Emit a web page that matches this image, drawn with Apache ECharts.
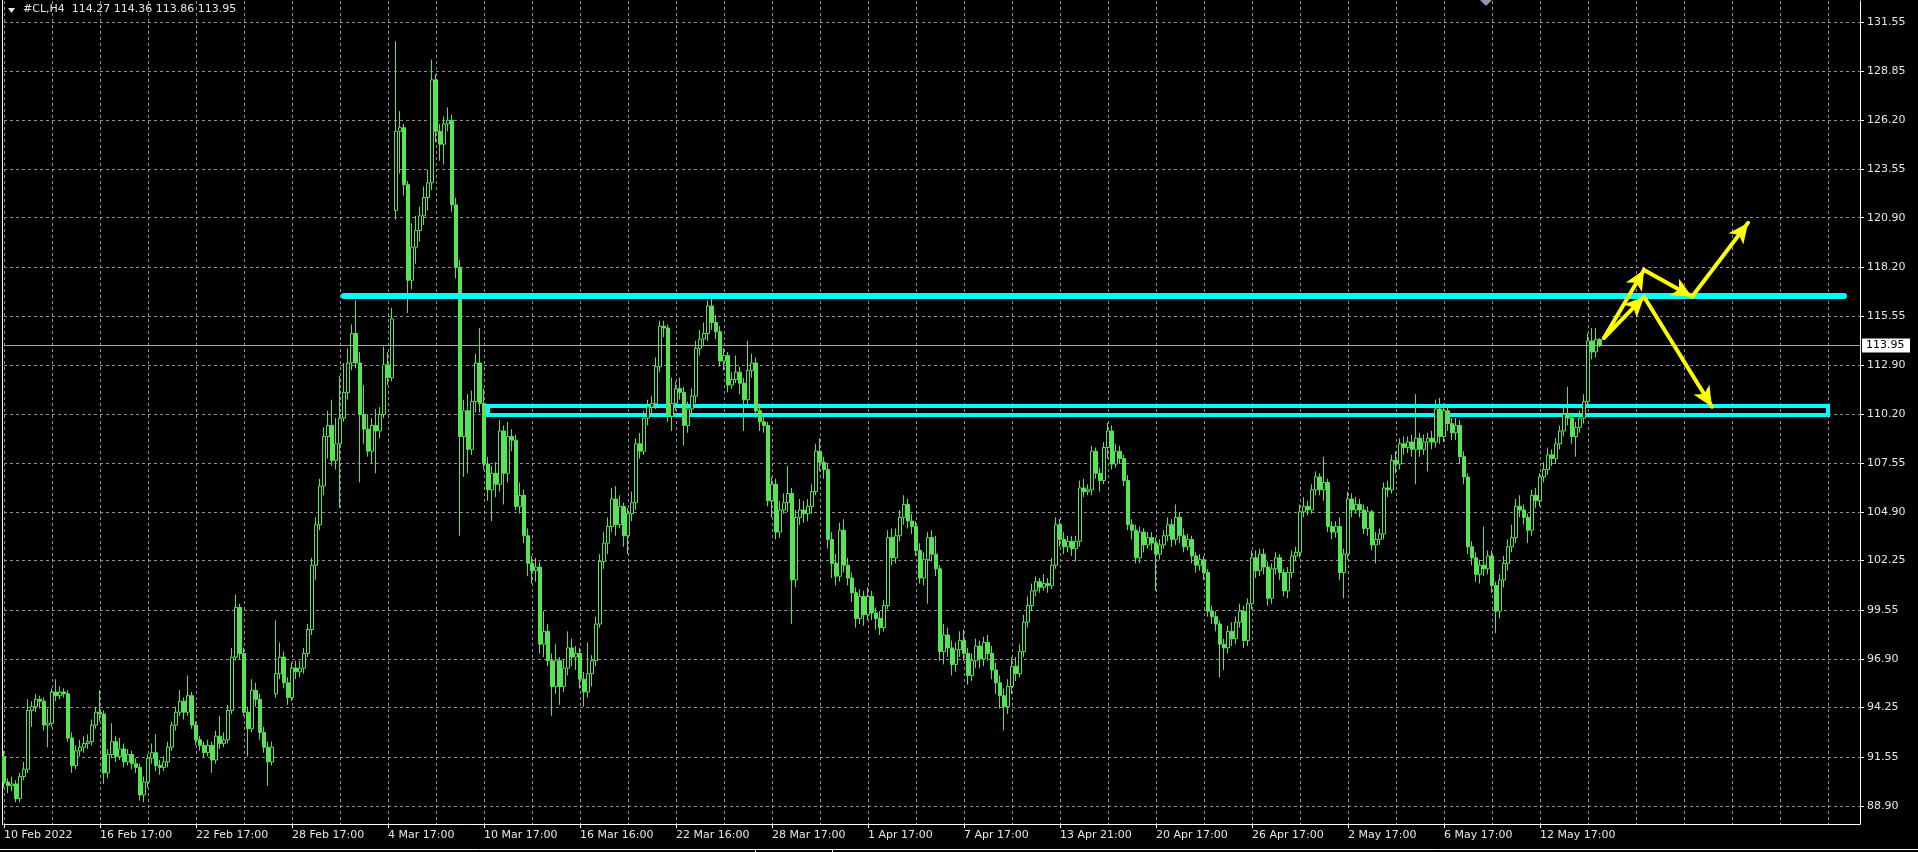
<!DOCTYPE html>
<html><head><meta charset="utf-8">
<script src="https://cdn.jsdelivr.net/npm/echarts@6/dist/echarts.min.js"></script>
<style>html,body{margin:0;padding:0;background:#000;overflow:hidden}#c{width:1918px;height:852px;}</style>
</head><body><div id="c"></div>
<script>
// ---- chart header ----
const symbolTitle = '#CL,H4';
const lastQuote = [114.27, 114.36, 113.86, 113.95];

// ---- axis tick labels ----
const xLabels = ['10 Feb 2022','16 Feb 17:00','22 Feb 17:00','28 Feb 17:00','4 Mar 17:00','10 Mar 17:00',
  '16 Mar 16:00','22 Mar 16:00','28 Mar 17:00','1 Apr 17:00','7 Apr 17:00','13 Apr 21:00','20 Apr 17:00',
  '26 Apr 17:00','2 May 17:00','6 May 17:00','12 May 17:00'];
const barsPerLabel = 24;
const barsPerGrid = 12;
const yTicks = [88.90,91.55,94.25,96.90,99.55,102.25,104.90,107.55,110.20,112.90,115.55,118.20,120.90,123.55,126.20,128.85,131.55];
const slotCount = 465; // H4 bar slots on screen, including the empty right shift

// ---- H4 bars: [open, close, low, high] ----
const barsFeb = [
[91.6,90.2,89.9,91.9],[90.2,90.0,89.6,90.4],[90.0,90.1,89.7,90.5],[90.1,89.3,89.1,90.3],[89.3,90.5,89.1,90.7],
[90.5,90.9,90.3,91.3],[90.9,94.1,90.7,94.7],[94.1,94.3,93.2,94.6],[94.3,94.7,94.0,95.0],[94.7,94.6,94.2,94.9],
[94.6,93.3,93.0,94.8],[93.3,93.4,92.1,94.2],[93.4,95.1,93.2,95.3],[95.1,94.9,94.6,95.8],[94.9,95.1,94.7,95.4],
[95.1,95.0,94.8,95.3],[95.0,92.6,92.4,95.2],[92.6,91.1,90.7,92.9],[91.1,91.9,90.9,92.2],[91.9,92.1,91.6,92.5],
[92.1,92.3,91.8,92.7],[92.3,92.4,92.0,92.8],[92.4,93.3,92.2,93.6],[93.3,94.0,93.1,94.3],[94.0,93.9,93.5,95.2],
[93.9,90.7,90.1,94.1],[90.7,91.7,90.4,92.0],[91.7,92.4,91.5,93.4],[92.4,91.6,91.3,92.7],[91.6,92.0,91.4,92.6],
[92.0,91.3,91.0,92.3],[91.3,91.7,91.1,92.0],[91.7,91.2,90.9,91.9],[91.2,91.0,90.7,91.5],[91.0,89.5,89.2,91.2],
[89.5,90.2,89.1,90.5],[90.2,91.5,89.9,91.7],[91.5,91.8,91.2,92.3],[91.8,91.1,90.8,92.8],[91.1,91.0,90.6,91.4],
[91.0,91.3,90.8,91.6],[91.3,92.1,91.0,92.4],[92.1,93.3,91.9,93.5],[93.3,94.0,93.0,94.3],[94.0,94.6,93.8,95.2],
[94.6,94.0,93.6,94.8],[94.0,94.9,93.8,96.0],[94.9,93.3,93.1,95.1],[93.3,92.5,92.2,93.5],[92.5,92.2,91.9,92.7],
[92.2,91.8,91.5,92.4],[91.8,92.2,91.6,92.5],[92.2,91.4,90.7,92.4],[91.4,92.7,91.2,93.0],[92.7,92.3,92.0,93.8],
[92.3,92.5,92.1,92.9],[92.5,94.1,92.3,94.4],[94.1,97.0,93.9,97.5],[97.0,99.7,96.8,100.4],[99.7,97.2,96.9,99.9],
[97.2,94.0,93.8,97.5],[94.0,93.1,91.6,94.3],[93.1,95.2,92.9,95.8],[95.2,94.7,94.3,95.6],[94.7,92.9,92.5,95.0],
[92.9,92.1,91.8,93.2],[92.1,91.3,90.0,92.4],[91.3,92.1,91.1,92.4]
];
const barsEarlyMar = [
[95.0,96.1,94.8,99.0],[96.1,97.0,95.8,97.8],[97.0,95.6,95.3,97.3],[95.6,94.8,94.4,95.9],[94.8,96.4,94.6,96.7],
[96.4,96.2,95.8,96.8],[96.2,96.4,95.9,96.8],[96.4,97.2,96.1,97.5],[97.2,98.5,97.0,98.8],[98.5,102.0,98.2,102.4],
[102.0,104.2,101.2,104.6],[104.2,106.3,103.9,106.7],[106.3,109.0,105.8,109.5],[109.0,109.6,107.8,110.4],[109.6,107.7,107.4,111.0],
[107.7,108.6,107.2,110.0],[108.6,110.0,105.1,112.3],[110.0,111.4,109.8,113.0],[111.4,113.0,111.0,113.8],[113.0,114.6,112.6,115.1],
[114.6,113.0,112.7,116.4],[113.0,110.2,106.5,113.6],[110.2,109.4,108.6,111.8],[109.4,108.2,107.9,110.2],[108.2,109.6,107.5,110.0],
[109.6,109.3,107.0,110.5],[109.3,110.2,108.9,110.6],[110.2,112.9,110.0,113.9],[112.9,112.2,111.8,113.6],[112.2,115.4,112.0,116.0],
[121.3,125.6,120.8,130.5],[125.6,125.8,123.3,126.7],[125.8,122.7,122.1,126.0],[122.7,117.5,115.7,122.9],[117.5,119.3,117.0,120.6],
[119.3,120.2,118.4,121.0],[120.2,121.0,119.6,121.5],[121.0,122.0,120.5,122.6],[122.0,122.8,121.3,123.5],[122.8,128.4,122.4,129.5],
[128.4,125.6,125.0,128.7],[125.6,124.9,124.0,126.0],[124.9,126.0,123.8,126.4],[126.0,126.2,125.6,126.9],[126.2,121.6,121.2,126.5],
[121.6,118.2,117.6,122.0],[118.2,109.0,103.6,118.6],[109.0,110.4,106.8,111.0],[110.4,108.3,107.0,111.3],[108.3,110.9,108.0,111.5],
[110.9,113.0,110.3,113.5],[113.0,110.8,110.3,114.9],[110.8,107.5,107.2,111.6],[107.5,106.1,105.5,107.9],[106.1,107.0,104.4,107.4],
[107.0,106.4,105.7,107.6],[106.4,109.3,106.0,109.9],[109.3,107.0,105.3,109.6],[107.0,109.0,106.5,109.8],[109.0,108.8,108.2,109.4],
[108.8,105.2,105.0,109.1],[105.2,105.8,104.8,106.5],[105.8,103.6,103.2,106.1],[103.6,102.1,101.4,104.0],[102.1,101.7,101.0,102.5],
[101.7,101.9,101.1,102.4],[101.9,97.7,97.2,102.2],[97.7,98.4,97.0,99.5],[98.4,96.8,96.5,98.8],[96.8,95.4,93.8,97.2],
[95.4,96.8,95.0,97.7],[96.8,95.4,94.4,97.0],[95.4,96.4,95.1,96.9],[96.4,97.5,96.0,98.4],[97.5,97.0,96.5,98.0],
[97.0,97.2,96.3,97.6]
];
const barsLateMar = [
[97.2,95.8,95.3,97.5],[95.8,95.1,94.3,96.2],[95.1,96.1,94.8,97.8],[96.1,96.8,95.4,97.1],[96.8,98.8,96.5,99.2],
[98.8,102.2,98.6,102.6],[102.2,103.2,101.8,103.8],[103.2,104.1,102.6,104.6],[104.1,105.6,103.8,106.2],[105.6,104.2,103.6,106.3],
[104.2,105.2,104.0,105.8],[105.2,103.6,103.0,105.4],[103.6,104.8,102.6,105.1],[104.8,105.4,104.4,106.0],[105.4,108.6,105.0,108.9],
[108.6,108.2,107.8,109.2],[108.2,110.0,108.0,110.4],[110.0,110.6,109.6,111.0],[110.6,110.8,110.2,111.2],[110.8,112.8,110.5,113.3],
[112.8,115.0,112.5,115.3],[115.0,114.9,114.4,115.3],[114.9,110.1,109.8,115.1],[110.1,110.8,109.3,112.2],[110.8,111.6,110.4,112.0],
[111.6,111.4,111.0,112.2],[111.4,109.6,108.5,111.7],[109.6,110.5,109.2,110.9],[110.5,111.2,110.1,111.6],[111.2,113.8,110.8,114.2],
[113.8,114.3,113.4,114.8],[114.3,114.6,113.9,115.2],[114.6,116.1,114.2,116.4],[116.1,115.2,114.8,116.6],[115.2,114.7,114.3,115.6],
[114.7,113.1,112.8,115.0],[113.1,113.4,112.6,113.8],[113.4,111.8,111.4,113.6],[111.8,112.1,111.6,112.5],[112.1,112.5,111.9,113.4],
[112.5,111.9,111.3,112.8],[111.9,111.0,109.3,112.2],[111.0,112.6,110.7,114.2],[112.6,113.0,112.2,113.5],[113.0,110.4,110.0,113.3],
[110.4,109.8,109.3,110.8],[109.8,109.6,109.2,110.1],[109.6,105.5,105.2,109.8],[105.5,106.4,104.6,106.8],[106.4,103.8,103.4,106.7],
[103.8,105.0,103.5,105.5],[105.0,105.4,104.8,105.9],[105.4,105.9,104.9,107.4],[105.9,101.2,98.8,106.2],[101.2,104.6,100.8,105.0],
[104.6,105.0,104.2,105.6],[105.0,104.8,104.3,105.5],[104.8,105.2,104.4,105.6],[105.2,106.0,104.8,106.4],[106.0,108.2,105.8,108.6],
[108.2,107.6,107.1,108.9],[107.6,107.2,106.7,107.9],[107.2,103.4,102.9,107.5],[103.4,102.1,101.3,103.8],[102.1,101.4,100.9,102.6],
[101.4,103.9,101.1,104.3],[103.9,102.0,101.6,104.5],[102.0,101.3,100.9,102.4],[101.3,100.5,100.0,101.6],[100.5,99.1,98.6,100.8],
[99.1,100.3,98.8,100.7],[100.3,99.3,98.7,100.6]
];
const barsEarlyApr = [
[99.3,100.3,99.0,100.8],[100.3,99.4,99.0,100.6],[99.4,99.1,98.5,99.7],[99.1,98.6,98.2,99.5],[98.6,99.8,98.4,100.1],
[99.8,103.5,99.6,103.9],[103.5,102.4,102.0,104.0],[102.4,103.6,102.1,104.0],[103.6,104.6,103.3,105.0],[104.6,105.3,104.2,105.8],
[105.3,104.4,104.0,105.6],[104.4,104.1,103.7,104.8],[104.1,102.8,102.5,104.4],[102.8,101.3,101.0,103.2],[101.3,102.3,100.9,102.7],
[102.3,103.5,99.9,103.8],[103.5,102.6,102.2,103.9],[102.6,101.8,101.4,103.6],[101.8,97.3,96.8,102.0],[97.3,98.2,96.6,98.8],
[98.2,97.5,97.0,98.6],[97.5,96.6,96.0,97.9],[96.6,97.4,96.2,97.8],[97.4,97.9,97.0,98.4],[97.9,97.2,96.8,98.5],
[97.2,96.0,95.5,97.5],[96.0,96.8,95.7,97.2],[96.8,97.6,96.4,98.0],[97.6,96.9,96.4,97.9],[96.9,97.8,96.5,98.1],
[97.8,97.2,96.8,98.2],[97.2,96.3,95.8,97.6],[96.3,95.6,95.0,96.7],[95.6,94.9,94.2,96.0],[94.9,94.3,93.0,95.3],
[94.3,95.4,93.9,95.8],[95.4,96.5,95.0,97.0],[96.5,96.1,95.7,97.0],[96.1,97.3,95.9,97.7],[97.3,98.9,97.0,99.3],
[98.9,99.8,98.6,100.3],[99.8,100.6,99.5,101.0],[100.6,101.1,100.3,101.4],[101.1,100.8,100.5,101.3],[100.8,101.0,100.6,101.5],
[101.0,100.9,100.5,101.3],[100.9,102.0,100.7,102.4],[102.0,104.2,101.8,104.6],[104.2,103.4,103.0,104.5],[103.4,103.0,102.6,103.8],
[103.0,103.3,102.7,103.6],[103.3,102.9,102.5,103.6],[102.9,103.3,102.2,103.6],[103.3,106.2,103.0,106.6],[106.2,106.0,105.7,106.7],
[106.0,106.1,105.8,106.4],[106.1,108.2,105.8,108.5],[108.2,107.0,106.7,108.4],[107.0,106.6,106.0,107.3],[106.6,108.4,106.4,108.7],
[108.4,109.3,107.8,109.75],[109.3,107.5,107.2,109.6],[107.5,108.2,107.3,108.6],[108.2,107.8,107.5,108.5],[107.8,106.6,106.3,108.0],
[106.6,104.2,103.9,106.9],[104.2,103.9,103.4,104.5],[103.9,102.4,102.1,104.2],[102.4,103.8,102.1,104.1],[103.8,103.1,102.7,104.0],
[103.1,103.5,102.9,103.8],[103.5,103.2,102.8,103.8]
];
const barsLateApr = [
[103.2,102.6,100.6,103.5],[102.6,103.1,102.3,103.4],[103.1,103.6,102.9,103.9],[103.6,104.2,103.3,104.6],[104.2,103.4,103.0,104.5],
[103.4,104.6,103.1,105.3],[104.6,103.6,103.2,104.9],[103.6,103.0,102.7,104.0],[103.0,103.4,102.8,103.7],[103.4,102.5,102.1,103.6],
[102.5,102.0,101.6,102.7],[102.0,102.3,101.7,102.6],[102.3,101.6,101.2,102.5],[101.6,99.5,99.2,101.8],[99.5,99.2,98.8,99.8],
[99.2,98.8,98.4,99.5],[98.8,97.7,95.9,99.0],[97.7,97.5,96.3,98.0],[97.5,98.4,97.2,98.7],[98.4,98.0,97.6,98.9],
[98.0,98.9,97.7,99.2],[98.9,99.5,98.6,99.9],[99.5,97.9,97.5,99.8],[97.9,99.9,97.6,100.2],[99.9,102.4,99.6,102.8],
[102.4,101.7,101.3,102.8],[101.7,102.6,101.4,102.9],[102.6,101.9,101.5,102.9],[101.9,100.2,99.8,102.2],[100.2,101.8,99.9,102.1],
[101.8,102.4,101.5,102.7],[102.4,101.6,101.2,102.6],[101.6,100.6,100.3,101.8],[100.6,101.6,100.2,101.9],[101.6,102.5,101.3,102.8],
[102.5,102.7,102.2,103.0],[102.7,104.9,102.4,105.3],[104.9,105.2,104.6,105.7],[105.2,105.0,104.7,105.5],[105.0,106.1,104.8,106.4],
[106.1,106.8,105.8,107.1],[106.8,106.1,105.8,107.0],[106.1,106.5,105.5,107.9],[106.5,104.1,103.8,106.7],[104.1,103.8,103.4,104.4],
[103.8,104.1,103.5,104.4],[104.1,101.6,101.2,104.6],[101.6,102.6,100.2,102.9]
];
const barsMay = [
[102.6,105.6,102.3,106.0],[105.6,105.0,104.6,105.9],[105.0,105.3,104.8,105.7],[105.3,105.0,104.6,105.6],[105.0,104.0,103.7,105.3],
[104.0,104.9,103.6,105.2],[104.9,103.1,102.8,105.0],[103.1,103.4,102.1,103.8],[103.4,103.7,103.1,104.0],[103.7,106.2,103.4,106.5],
[106.2,106.1,105.7,106.6],[106.1,107.7,105.9,108.0],[107.7,107.5,107.0,108.2],[107.5,108.6,107.2,108.9],[108.6,108.4,108.0,109.0],
[108.4,108.7,108.1,109.0],[108.7,108.3,107.9,109.1],[108.3,108.9,106.4,111.3],[108.9,108.3,107.9,109.2],[108.3,108.7,108.0,109.1],
[108.7,108.9,107.1,109.2],[108.9,108.7,108.3,109.3],[108.7,110.5,108.4,111.0],[110.5,109.0,108.6,111.1],[109.0,110.4,108.7,110.8],
[110.4,109.7,109.3,110.7],[109.7,109.2,108.8,110.0],[109.2,109.6,108.8,110.0],[109.6,107.9,107.5,109.9],[107.9,106.8,106.4,108.2],
[106.8,103.0,102.6,107.0],[103.0,102.4,102.0,103.3],[102.4,101.5,101.1,102.7],[101.5,102.0,101.0,102.3],[102.0,101.8,101.4,104.1],
[101.8,102.5,101.5,102.8],[102.5,100.9,100.5,102.8],[100.9,99.5,98.3,101.1],[99.5,101.2,99.1,101.5],[101.2,102.1,100.8,102.5],
[102.1,103.0,101.7,103.4],[103.0,103.5,102.7,104.2],[103.5,105.2,103.2,105.6],[105.2,105.0,104.6,105.8],[105.0,104.6,104.2,105.3],
[104.6,103.9,103.2,104.8],[103.9,105.8,103.6,106.1],[105.8,105.5,105.1,106.2],[105.5,106.8,105.2,107.0],[106.8,107.2,106.5,107.6],
[107.2,108.0,106.9,108.4],[108.0,107.8,107.4,108.3],[107.8,108.6,107.5,108.9],[108.6,109.3,108.3,109.6],[109.3,110.2,109.0,110.6],
[110.2,110.0,109.6,111.7],[110.0,109.0,108.6,110.3],[109.0,109.5,107.9,109.8],[109.5,110.0,109.2,110.4],[110.0,110.9,109.7,111.3],
[110.9,114.2,110.6,114.6],[114.2,113.6,113.2,114.9],[113.6,114.27,113.3,114.9],[114.27,113.95,113.86,114.36]
];

// ---- drawn objects (bar index, price) ----
const resistanceLine = {from: 85, to: 460, price: 116.64};
const supportBox = {from: 121, to: 456, top: 110.66, bottom: 110.17};
const arrowPaths = [
  [[400,114.36],[410,118.06]],
  [[410,118.06],[422,116.6]],
  [[422,116.6],[436,120.62]],
  [[400,114.36],[410,116.6]],
  [[410,116.6],[427,110.62]]
];
const shiftMarkBar = 370.5; // chart-shift marker at the top edge

const candles = [].concat(barsFeb, barsEarlyMar, barsLateMar, barsEarlyApr, barsLateApr, barsMay);
const slots = Array.from({length: slotCount}, (_, i) => String(i));
const FG = '#e6e6e6';
const GRID = '#8f8f8f';
const GREEN = '#56e456';
const isLabel = i => i % barsPerLabel === 0 && i / barsPerLabel < xLabels.length;

const chart = echarts.init(document.getElementById('c'));
chart.setOption({
  backgroundColor: '#000000',
  animation: false,
  grid: {left: 4, right: 58, top: 1, bottom: 28, containLabel: false, outerBoundsMode: 'none'},
  xAxis: {
    type: 'category', data: slots, boundaryGap: false,
    axisLine: {show: true, onZero: false, lineStyle: {color: '#ffffff', width: 1}},
    axisTick: {show: true, interval: isLabel, length: 4, lineStyle: {color: '#ffffff'}},
    axisLabel: {show: true, interval: isLabel,
      formatter: (v, i) => (isLabel(i) ? xLabels[i / barsPerLabel] : ''),
      align: 'left', color: FG, fontFamily: 'DejaVu Sans', fontSize: 11, margin: 6},
    splitLine: {show: true, interval: i => i % barsPerGrid === 0,
      lineStyle: {color: GRID, width: 1, type: [3, 3]}}
  },
  yAxis: {
    type: 'value', position: 'right', min: 87.92, max: 132.69,
    axisLine: {show: true, lineStyle: {color: '#ffffff', width: 1}},
    axisTick: {show: true, customValues: yTicks, length: 4, lineStyle: {color: '#ffffff'}},
    axisLabel: {customValues: yTicks, formatter: v => v.toFixed(2), color: FG,
      fontFamily: 'DejaVu Sans', fontSize: 11, margin: 7},
    splitLine: {show: true, lineStyle: {color: GRID, width: 1, type: [3, 3]}}
  },
  series: [
    {
      type: 'candlestick', data: candles, barWidth: 3, silent: true,
      itemStyle: {color: '#000000', color0: GREEN, borderColor: GREEN, borderColor0: GREEN, borderWidth: 1},
      markLine: {
        silent: true, symbol: 'none', animation: false, label: {show: false},
        data: [{yAxis: lastQuote[3], lineStyle: {color: '#a8a8a8', width: 1, type: 'solid'}}]
      }
    },
    {
      type: 'line', data: [], silent: true,
      markArea: {
        silent: true,
        itemStyle: {color: 'rgba(0,0,0,0)', borderColor: '#00ffff', borderWidth: 4},
        data: [[{coord: [supportBox.from, supportBox.top]}, {coord: [supportBox.to, supportBox.bottom]}]]
      },
      markLine: {
        silent: true, symbol: 'none', animation: false, label: {show: false},
        lineStyle: {color: '#00ffff', width: 6, type: 'solid', cap: 'round'},
        data: [[{coord: [resistanceLine.from, resistanceLine.price]}, {coord: [resistanceLine.to, resistanceLine.price]}]]
      }
    },
    {
      type: 'line', data: [], silent: true,
      markLine: {
        silent: true, animation: false, symbol: ['none', 'arrow'], symbolSize: [14, 20],
        label: {show: false},
        lineStyle: {color: '#ffff00', width: 4, type: 'solid', cap: 'round'},
        data: arrowPaths.map(p => [{coord: p[0]}, {coord: p[1]}])
      }
    }
  ]
});

// overlays positioned through the chart's own scales
const priceY = chart.convertToPixel({yAxisIndex: 0}, lastQuote[3]);
const gridRight = chart.convertToPixel({xAxisIndex: 0}, slotCount - 1);
const shiftX = 4 + shiftMarkBar * 4;
chart.setOption({
  graphic: [
    {type: 'polygon', shape: {points: [[8, 8], [15, 8], [11.5, 13]]}, style: {fill: FG}},
    {type: 'text', left: 23, top: 4, style: {text: symbolTitle + '  ' + lastQuote.map(v => v.toFixed(2)).join(' '),
      fill: FG, font: '11px "DejaVu Sans"'}},
    {type: 'rect', shape: {x: gridRight + 2, y: priceY - 7, width: 48, height: 14}, style: {fill: '#ffffff'}},
    {type: 'text', x: gridRight + 6, y: priceY, style: {text: lastQuote[3].toFixed(2), fill: '#000000',
      font: '11px "DejaVu Sans"', verticalAlign: 'middle', align: 'left'}},
    {type: 'polygon', shape: {points: [[shiftX - 6, 0], [shiftX + 6, 0], [shiftX, 6]]}, style: {fill: '#8a9ab0'}},
    {type: 'line', shape: {x1: 0, y1: 849.5, x2: 1918, y2: 849.5}, style: {stroke: '#ffffff', lineWidth: 1}},
    {type: 'line', shape: {x1: 755.5, y1: 849.5, x2: 755.5, y2: 852}, style: {stroke: '#ffffff', lineWidth: 1}},
    {type: 'line', shape: {x1: 832.5, y1: 849.5, x2: 832.5, y2: 852}, style: {stroke: '#ffffff', lineWidth: 1}},
    {type: 'line', shape: {x1: 2.5, y1: 0, x2: 2.5, y2: 825}, style: {stroke: '#ffffff', lineWidth: 1}}
  ]
});
</script>
</body></html>
